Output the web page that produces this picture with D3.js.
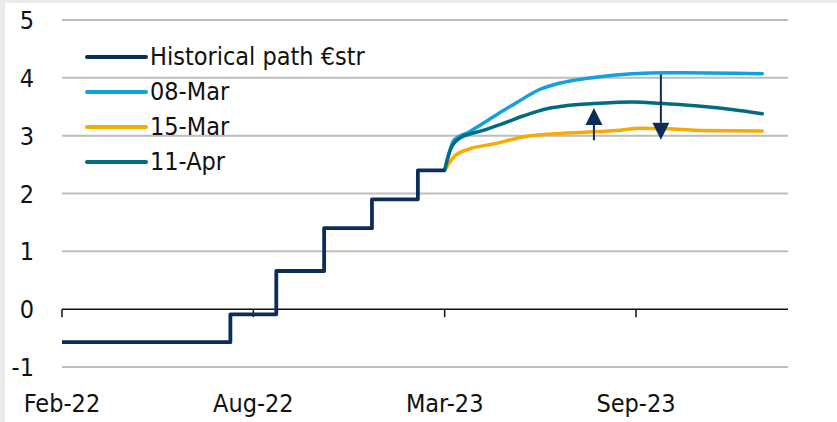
<!DOCTYPE html>
<html>
<head>
<meta charset="utf-8">
<script src="https://cdn.jsdelivr.net/npm/d3@7"></script>
<style>
  body { margin: 0; background: #ebebeb; }
  svg { display: block; }
  text { font-family: "DejaVu Sans Condensed", "Liberation Sans Narrow", sans-serif; fill: #111; }
</style>
</head>
<body>
<div id="chart"></div>
<script>
// x positions are in "tick units": 0 = Feb-22, 1 = Aug-22, 2 = Mar-23, 3 = Sep-23
var tickLabels = ["Feb-22", "Aug-22", "Mar-23", "Sep-23"];
var yTicks = [-1, 0, 1, 2, 3, 4, 5];

// historical €str path (step function)
var histX = [0, 0.88, 0.88, 1.12, 1.12, 1.37, 1.37, 1.62, 1.62, 1.86, 1.86, 2.0];
var histY = [-0.57, -0.57, -0.09, -0.09, 0.66, 0.66, 1.40, 1.40, 1.90, 1.90, 2.40, 2.40];

// market forward curves
var mar08X = [2.0, 2.05, 2.12, 2.29, 2.39, 2.49, 2.58, 2.68, 2.81, 2.98, 3.16, 3.51, 3.66];
var mar08Y = [2.40, 2.93, 3.05, 3.40, 3.60, 3.79, 3.89, 3.96, 4.02, 4.07, 4.09, 4.08, 4.07];

var mar15X = [2.0, 2.05, 2.12, 2.26, 2.43, 2.56, 2.73, 2.90, 3.02, 3.16, 3.34, 3.66];
var mar15Y = [2.40, 2.64, 2.76, 2.86, 2.99, 3.03, 3.06, 3.09, 3.13, 3.12, 3.09, 3.08];

var apr11X = [2.0, 2.03, 2.08, 2.20, 2.29, 2.41, 2.54, 2.64, 2.81, 2.98, 3.16, 3.34, 3.51, 3.66];
var apr11Y = [2.40, 2.76, 2.96, 3.09, 3.19, 3.34, 3.47, 3.52, 3.56, 3.58, 3.55, 3.51, 3.45, 3.38];

var seriesNames = ["Historical path €str", "08-Mar", "15-Mar", "11-Apr"];
var seriesColors = ["#0c2c5a", "#13a0e0", "#f5ab00", "#006c80"];

// repricing arrows: [x, from, to]
var arrows = [[2.78, 2.92, 3.48], [3.13, 4.06, 2.93]];

var W = 837, H = 422;
var svg = d3.select("#chart").append("svg")
  .attr("width", W).attr("height", H);

svg.append("rect").attr("x", 5).attr("y", 3)
  .attr("width", W - 5).attr("height", H - 3).attr("fill", "#fff");

var x = d3.scaleLinear().domain([0, 3]).range([62, 636]);
var y = d3.scaleLinear().domain([-1, 5]).range([367, 20]);
var xEnd = 788;

// gridlines
svg.append("g").selectAll("line")
  .data(yTicks.filter(d => d !== 0))
  .join("line")
    .attr("x1", x(0)).attr("x2", xEnd)
    .attr("y1", d => y(d)).attr("y2", d => y(d))
    .attr("stroke", "#bdbdbd").attr("stroke-width", 2);

// y labels
svg.append("g").selectAll("text")
  .data(yTicks)
  .join("text")
    .attr("x", 34).attr("y", d => y(d))
    .attr("dy", "0.36em")
    .attr("text-anchor", "end")
    .attr("font-size", 25)
    .text(d => d);

// zero axis with ticks
var axisG = svg.append("g").attr("transform", "translate(0," + y(0) + ")");
axisG.append("line").attr("x1", x(0)).attr("x2", xEnd)
  .attr("stroke", "#111").attr("stroke-width", 1.5);
axisG.selectAll("line.tick")
  .data(d3.range(tickLabels.length))
  .join("line").attr("class", "tick")
    .attr("x1", d => x(d)).attr("x2", d => x(d))
    .attr("y1", 0).attr("y2", 8)
    .attr("stroke", "#111").attr("stroke-width", 1.5);

// x labels
svg.append("g").selectAll("text")
  .data(tickLabels)
  .join("text")
    .attr("x", (d, i) => x(i)).attr("y", 412)
    .attr("text-anchor", "middle")
    .attr("font-size", 25)
    .text(d => d);

var line = d3.line().x(d => x(d[0])).y(d => y(d[1]));
var smooth = d3.line().x(d => x(d[0])).y(d => y(d[1])).curve(d3.curveMonotoneX);

function pairs(xs, ys) { return xs.map((v, i) => [v, ys[i]]); }

var curves = [
  [pairs(mar08X, mar08Y), seriesColors[1]],
  [pairs(mar15X, mar15Y), seriesColors[2]],
  [pairs(apr11X, apr11Y), seriesColors[3]]
];
svg.append("g").selectAll("path")
  .data(curves)
  .join("path")
    .attr("d", d => smooth(d[0]))
    .attr("fill", "none")
    .attr("stroke", d => d[1])
    .attr("stroke-width", 3.5)
    .attr("stroke-linecap", "round");

svg.append("path")
  .attr("d", line(pairs(histX, histY)))
  .attr("fill", "none")
  .attr("stroke", seriesColors[0])
  .attr("stroke-width", 3.8)
  .attr("stroke-linejoin", "round");

// arrows
var arrowG = svg.append("g");
arrows.forEach(function(a) {
  var x0 = x(a[0]), y0 = y(a[1]), y1 = y(a[2]);
  var dir = y1 < y0 ? -1 : 1;
  var head = 17;
  arrowG.append("line")
    .attr("x1", x0).attr("x2", x0)
    .attr("y1", y0).attr("y2", y1 - dir * head)
    .attr("stroke", seriesColors[0]).attr("stroke-width", 2);
  arrowG.append("path")
    .attr("d", "M" + x0 + "," + y1 +
      "L" + (x0 - 8.5) + "," + (y1 - dir * head) +
      "L" + (x0 + 8.5) + "," + (y1 - dir * head) + "Z")
    .attr("fill", seriesColors[0]);
});

// legend
var legend = svg.append("g").selectAll("g")
  .data(seriesNames)
  .join("g")
    .attr("transform", (d, i) => "translate(87," + (57 + i * 35) + ")");
legend.append("line")
  .attr("x1", 0).attr("x2", 59)
  .attr("stroke", (d, i) => seriesColors[i])
  .attr("stroke-width", 4)
  .attr("stroke-linecap", "round");
legend.append("text")
  .attr("x", 63).attr("dy", "0.32em")
  .attr("font-size", 25)
  .text(d => d);
</script>
</body>
</html>
